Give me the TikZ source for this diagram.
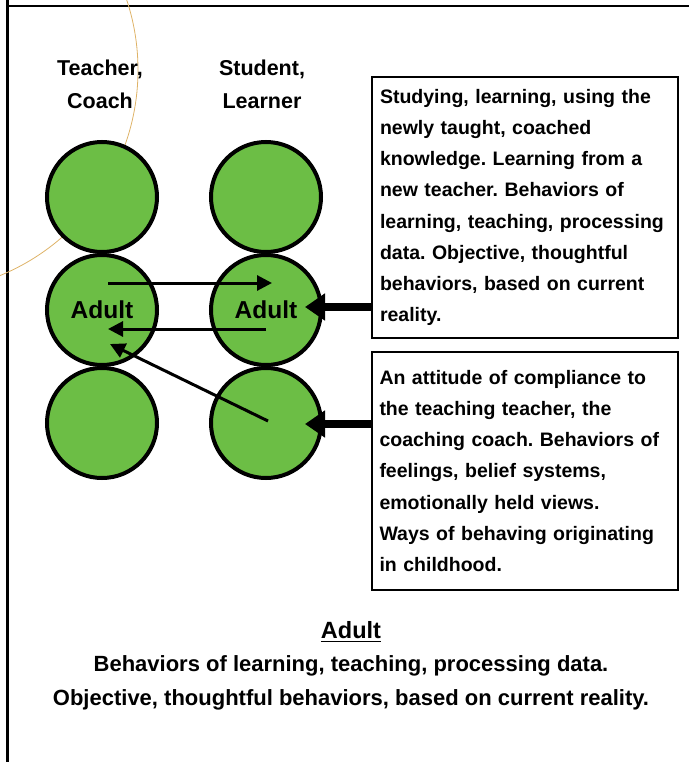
\documentclass[tikz,border=0pt]{standalone}
\usepackage{fontspec}
\setmainfont{Liberation Sans}
\usetikzlibrary{arrows.meta,positioning}
\definecolor{ballgreen}{RGB}{108,190,69}
\definecolor{arctan}{RGB}{222,178,102}
\frenchspacing
\begin{document}
\begin{tikzpicture}[x=1bp,y=-1bp,
	ball/.style={circle,draw=black,line width=4bp,fill=ballgreen,minimum size=110bp,inner sep=0pt,font=\bfseries\fontsize{24.5bp}{28bp}\selectfont},
	head/.style={align=center,font=\bfseries\fontsize{21.5bp}{33bp}\selectfont},
	notebox/.style={draw=black,line width=2bp,fill=white,text width=290bp,inner xsep=8bp,align=left,font=\bfseries\fontsize{19.5bp}{31.2bp}\selectfont},
	caption/.style={align=center,font=\bfseries\fontsize{22bp}{34bp}\selectfont},
	thinarrow/.style={line width=3bp,-{Triangle[length=15bp,width=15bp]}},
	fatarrow/.style={line width=8bp,-{Triangle[length=20bp,width=26bp]}}]
	\useasboundingbox (0,0) rectangle (689,762);
	% frame and faint arc
	\draw[line width=3bp] (7,0) -- (7,762);
	\draw[line width=2.5bp] (7,6) -- (689,6);
	\draw[arctan,line width=0.8bp] (-84,70) circle (222bp);
	% columns
	\node[head] (teach) at (100,84.5) {Teacher,\\Coach};
	\node[head] (learn) at (262,84.5) {Student,\\Learner};
	\node[ball] (tp) at (102,197) {};
	\node[ball] (ta) at (102,310) {Adult};
	\node[ball] (tc) at (102,423) {};
	\node[ball] (sp) at (266,197) {};
	\node[ball] (sa) at (266,310) {Adult};
	\node[ball] (sc) at (266,423) {};
	% notes
	\node[notebox,minimum height=261bp] (upper) at (525,207.5) {Studying, learning, using the\\newly taught, coached\\knowledge. Learning from a\\new teacher. Behaviors of\\learning, teaching, processing\\data. Objective, thoughtful\\behaviors, based on current\\reality.};
	\node[notebox,minimum height=238bp] (lower) at (524.5,471) {An attitude of compliance to\\the teaching teacher, the\\coaching coach. Behaviors of\\feelings, belief systems,\\emotionally held views.\\Ways of behaving originating\\in childhood.};
	% arrow ends
	\coordinate (t1) at ([shift={(6,-27)}]ta.center);
	\coordinate (s1) at ([shift={(6,-27)}]sa.center);
	\coordinate (s2) at ([shift={(0,19)}]sa.center);
	\coordinate (t2) at ([shift={(6,19)}]ta.center);
	\coordinate (s3) at ([shift={(2,-2)}]sc.center);
	\coordinate (t3) at ([shift={(8,34)}]ta.center);
	\coordinate (sa tip) at ([shift={(39,-3)}]sa.center);
	\coordinate (sc tip) at ([shift={(39,1)}]sc.center);
	\draw[thinarrow] (t1) -- (s1);
	\draw[thinarrow] (s2) -- (t2);
	\draw[thinarrow] (s3) -- (t3);
	\draw[fatarrow] (upper.west |- sa tip) -- (sa tip);
	\draw[fatarrow] (lower.west |- sc tip) -- (sc tip);
	% summary
	\node[caption,inner xsep=0pt,font=\bfseries\fontsize{23.5bp}{34bp}\selectfont] (title) at (351,630) {Adult};
	\draw[line width=1.8bp] ([yshift=-3bp]title.base west) -- ([yshift=-3bp]title.base east);
	\node[caption] (summary) at (351,683) {Behaviors of learning, teaching, processing data.\\Objective, thoughtful behaviors, based on current reality.};
\end{tikzpicture}
\end{document}
